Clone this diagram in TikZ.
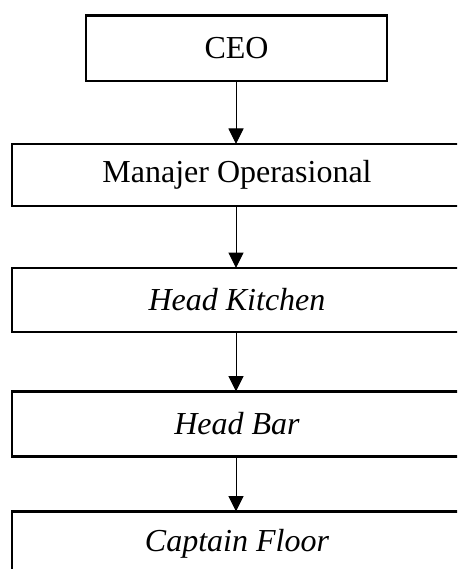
\documentclass[tikz,border=0pt]{standalone}
\usepackage{fontspec}
\setmainfont{Liberation Serif}
\usetikzlibrary{arrows.meta}
\begin{document}
\begin{tikzpicture}[x=1pt,y=1pt,
  orgbox/.style={draw=black,line width=2.3pt,rectangle,inner sep=0pt,outer sep=0pt,
    font=\fontsize{32}{36}\selectfont},
  wide/.style={orgbox,minimum width=450pt,minimum height=64pt},
  link/.style={line width=1pt,-{Triangle[width=15pt,length=15.5pt]}}]
\useasboundingbox (0,0) rectangle (457,-569);
\clip (0,0) rectangle (457,-569);
\node[orgbox,minimum width=301pt,minimum height=65.5pt] (ceo) at (236.5,-48.25) {CEO};
\node[wide,minimum height=62pt] (mo) at (237,-175) {Manajer Operasional};
\node[wide] (hk) at (237,-300) {\itshape Head Kitchen};
\node[wide,minimum height=65pt] (hb) at (237,-424) {\itshape Head Bar};
\node[wide] (cf) at (237,-543.5) {\itshape Captain Floor};
\draw[link] (ceo.south -| 236,0) -- (mo.north -| 236,0);
\draw[link] (mo.south -| 236,0) -- (hk.north -| 236,0);
\draw[link] (hk.south -| 236,0) -- (hb.north -| 236,0);
\draw[link] (hb.south -| 236,0) -- (cf.north -| 236,0);
\end{tikzpicture}
\end{document}
